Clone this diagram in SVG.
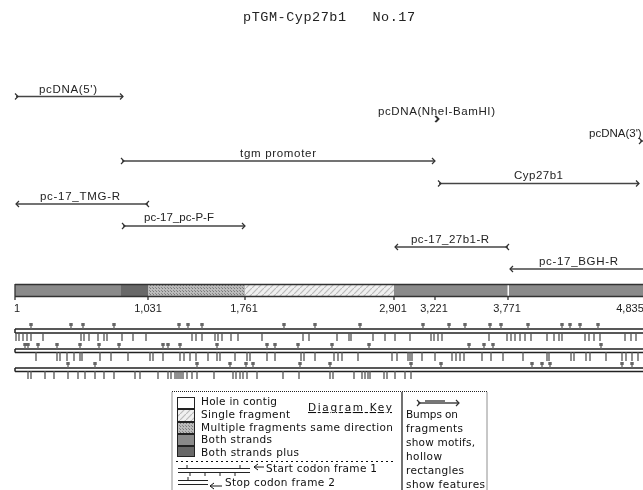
<svg xmlns="http://www.w3.org/2000/svg" width="643" height="490" viewBox="0 0 643 490">
<style>
text{fill:#222}
.t{font:13.500px "Liberation Mono",monospace}
.l{font:11.500px "Liberation Sans",Arial,sans-serif}
.n{font:11px "Liberation Sans",Arial,sans-serif;text-anchor:middle}
.k{font:10.500px "DejaVu Sans",sans-serif;fill:#111}
.s{fill:none;stroke:#444;stroke-width:1.3}
.tr{fill:none;stroke:#222;stroke-width:1.5}
.tk{fill:none;stroke:#555;stroke-width:1.3}
.st{fill:none;stroke:#666;stroke-width:1.300}
.bl{fill:none;stroke:#666;stroke-width:3.400;stroke-dasharray:0 3 3 1}
.sw{stroke:#222;stroke-width:1}
</style>
<defs>
<marker id="h" markerWidth="6" markerHeight="8" refX="4" refY="4" orient="auto" markerUnits="userSpaceOnUse"><path d="M1 1L4 4L1 7" fill="none" stroke="#333" stroke-width="1.200"/></marker>
<marker id="b" markerWidth="6" markerHeight="8" refX="2" refY="4" orient="auto" markerUnits="userSpaceOnUse"><path d="M1 1L4 4L1 7" fill="none" stroke="#333" stroke-width="1.200"/></marker>
<pattern id="stip" width="3" height="3" patternUnits="userSpaceOnUse"><rect width="3" height="3" fill="#bbb"/><rect width="1" height="1" fill="#777"/><rect x="2" y="2" width="1" height="1" fill="#888"/></pattern>
<pattern id="hat" width="6" height="6" patternUnits="userSpaceOnUse"><rect width="6" height="6" fill="#f0f0f0"/><path d="M0 6L6 0" stroke="#bbb" stroke-width="1.200"/></pattern>
<filter id="soft" x="0" y="0" width="100%" height="100%"><feGaussianBlur stdDeviation="0.4"/></filter>
<path id="b1" d="M31 329v-6M71 329v-6M83 329v-6M114 329v-6M179 329v-6M188 329v-6M202 329v-6M284 329v-6M315 329v-6M360 329v-6M423 329v-6M449 329v-6M465 329v-6M490 329v-6M501 329v-6M528 329v-6M562 329v-6M570 329v-6M580 329v-6M598 329v-6"/>
<path id="b2" d="M25 349v-6M28 349v-6M38 349v-6M57 349v-6M80 349v-6M99 349v-6M119 349v-6M163 349v-6M168 349v-6M180 349v-6M217 349v-6M267 349v-6M275 349v-6M298 349v-6M332 349v-6M369 349v-6M469 349v-6M484 349v-6M493 349v-6M601 349v-6"/>
<path id="b3" d="M68 368v-6M95 368v-6M197 368v-6M230 368v-6M246 368v-6M253 368v-6M300 368v-6M330 368v-6M411 368v-6M441 368v-6M532 368v-6M542 368v-6M550 368v-6M622 368v-6M632 368v-6"/>
</defs>
<rect width="643" height="490" fill="#fff"/>
<g filter="url(#soft)">
<text class="t" x="243" y="21" textLength="172" xml:space="preserve">pTGM-Cyp27b1   No.17</text>

<g id="connectors">
<path class="s" d="M16 96.500H123" marker-start="url(#b)" marker-end="url(#h)"/>
<path class="s" d="M122 161H435" marker-start="url(#b)" marker-end="url(#h)"/>
<path class="s" d="M439 183.500H639" marker-start="url(#b)" marker-end="url(#h)"/>
<path class="s" d="M148 204H16" marker-start="url(#b)" marker-end="url(#h)"/>
<path class="s" d="M123 226H245" marker-start="url(#b)" marker-end="url(#h)"/>
<path class="s" d="M508 247H395" marker-start="url(#b)" marker-end="url(#h)"/>
<path class="s" d="M650 269H510" marker-end="url(#h)"/>
<path class="s" d="M437 119H438" marker-start="url(#b)" marker-end="url(#h)"/>
<path class="s" d="M640 141H650" marker-start="url(#b)"/>
</g>
<g id="node-pcdna5"><text class="l" x="39" y="93" textLength="58">pcDNA(5')</text></g>
<g id="node-tgm"><text class="l" x="240" y="157" textLength="76">tgm promoter</text></g>
<g id="node-nhei"><text class="l" x="378" y="115" textLength="117">pcDNA(NheI-BamHI)</text></g>
<g id="node-pcdna3"><text class="l" x="589" y="137">pcDNA(3')</text></g>
<g id="node-cyp"><text class="l" x="514" y="179" textLength="49">Cyp27b1</text></g>
<g id="node-tmg"><text class="l" x="40" y="200" textLength="80">pc-17_TMG-R</text></g>
<g id="node-ppf"><text class="l" x="144" y="221" textLength="70">pc-17_pc-P-F</text></g>
<g id="node-27b1r"><text class="l" x="411" y="243" textLength="78">pc-17_27b1-R</text></g>
<g id="node-bgh"><text class="l" x="539" y="265" textLength="79">pc-17_BGH-R</text></g>

<g id="sequence-bar">
<rect x="15" y="285" width="106" height="11" fill="#8a8a8a"/>
<rect x="121" y="285" width="27" height="11" fill="#686868"/>
<rect x="148" y="285" width="97" height="11" fill="url(#stip)"/>
<rect x="245" y="285" width="149" height="11" fill="url(#hat)"/>
<rect x="394" y="285" width="249" height="11" fill="#8a8a8a"/>
<rect x="507.500" y="285" width="1.500" height="11" fill="#fff"/>
<path d="M15 284.500H643M15 296.500H643" stroke="#333" stroke-width="1.300" fill="none"/>
<path d="M15 284V300M148 297V300M245 297V300M394 297V300M435 297V300M508 297V300" stroke="#333" stroke-width="1.300" fill="none"/>
<text class="n" x="17" y="312">1</text>
<text class="n" x="148" y="312">1,031</text>
<text class="n" x="244" y="312">1,761</text>
<text class="n" x="393" y="312">2,901</text>
<text class="n" x="434" y="312">3,221</text>
<text class="n" x="507" y="312">3,771</text>
<text class="n" x="630" y="312">4,835</text>
</g>

<g id="tracks">
<path class="tr" d="M15 329H643M15 333H643M15 329V333"/>
<path class="tr" d="M15 349H643M15 352.500H643M15 349V352.500"/>
<path class="tr" d="M15 368H643M15 371.500H643M15 368V371.500"/>
<path class="tk" d="M16 333v8M19 333v8M23 333v8M27 333v8M31 333v8M43 333v8M81 333v8M84 333v8M89 333v8M98 333v8M104 333v8M107 333v8M122 333v8M133 333v8M146 333v8M192 333v8M196 333v8M202 333v8M215 333v8M218 333v8M222 333v8M231 333v8M238 333v8M262 333v8M303 333v8M309 333v8M337 333v8M349 333v8M351 333v8M373 333v8M385 333v8M395 333v8M410 333v8M431 333v8M434 333v8M438 333v8M442 333v8M489 333v8M507 333v8M511 333v8M515 333v8M520 333v8M525 333v8M531 333v8M547 333v8M554 333v8M559 333v8M562 333v8M585 333v8M589 333v8M594 333v8M600 333v8M625 333v8M631 333v8M636 333v8"/>
<path class="tk" d="M36 352v9M57 352v9M60 352v9M67 352v9M74 352v9M80 352v9M82 352v9M100 352v9M111 352v9M128 352v9M150 352v9M153 352v9M163 352v9M180 352v9M184 352v9M190 352v9M196 352v9M208 352v9M217 352v9M220 352v9M235 352v9M247 352v9M250 352v9M267 352v9M275 352v9M301 352v9M304 352v9M315 352v9M334 352v9M338 352v9M342 352v9M358 352v9M392 352v9M397 352v9M408 352v9M410 352v9M412 352v9M422 352v9M435 352v9M452 352v9M456 352v9M460 352v9M464 352v9M482 352v9M491 352v9M503 352v9M523 352v9M547 352v9M549 352v9M571 352v9M574 352v9M586 352v9M590 352v9M606 352v9M622 352v9M626 352v9M632 352v9M638 352v9"/>
<path class="tk" d="M28 371v8M31 371v8M45 371v8M54 371v8M68 371v8M78 371v8M85 371v8M95 371v8M104 371v8M114 371v8M135 371v8M140 371v8M158 371v8M168 371v8M171 371v8M175 371v8M177 371v8M179 371v8M181 371v8M183 371v8M187 371v8M192 371v8M197 371v8M214 371v8M233 371v8M236 371v8M240 371v8M243 371v8M247 371v8M257 371v8M283 371v8M299 371v8M330 371v8M333 371v8M354 371v8M362 371v8M365 371v8M368 371v8M370 371v8M384 371v8M387 371v8M395 371v8M405 371v8M411 371v8"/>
<use href="#b1" class="st"/><use href="#b1" class="bl"/>
<use href="#b2" class="st"/><use href="#b2" class="bl"/>
<use href="#b3" class="st"/><use href="#b3" class="bl"/>
</g>

<g id="legend">
<rect x="172" y="391.500" width="315" height="100" fill="none" stroke="#222" stroke-dasharray="1 1"/>
<path d="M402 392V490" stroke="#111" stroke-width="1.200"/>
<path d="M176 461.500H393" stroke="#111" stroke-dasharray="2 3"/>
<rect class="sw" x="177.500" y="397.500" width="17" height="11" fill="#fff"/>
<rect class="sw" x="177.500" y="409.500" width="17" height="12" fill="url(#hat)"/>
<rect class="sw" x="177.500" y="422.500" width="17" height="11" fill="url(#stip)"/>
<rect class="sw" x="177.500" y="434.500" width="17" height="11" fill="#8a8a8a"/>
<rect class="sw" x="177.500" y="446.500" width="17" height="10" fill="#686868"/>
<text class="k" x="201" y="405" textLength="76">Hole in contig</text>
<text class="k" x="201" y="418" textLength="89">Single fragment</text>
<text class="k" x="201" y="431" textLength="192">Multiple fragments same direction</text>
<text class="k" x="201" y="443" textLength="71">Both strands</text>
<text class="k" x="201" y="456" textLength="98">Both strands plus</text>
<text class="k" x="308" y="411" textLength="84" font-weight="bold" text-decoration="underline">Diagram Key</text>
<text class="k" x="266" y="472" textLength="111">Start codon frame 1</text>
<text class="k" x="225" y="486" textLength="110">Stop codon frame 2</text>
<path d="M178 468.500H250M178 472.500H250M187 465V468M240 465V468M190 473V476M205 473V476M220 473V476M235 473V476" stroke="#222" fill="none"/>
<path d="M178 480.500H208M178 484.500H208M188 477V480" stroke="#222" fill="none"/>
<path d="M258 464L254 467L258 470M254 467H264M214 483L210 486L214 489M210 486H222" stroke="#111" fill="none"/>
<path d="M418 403H459" class="s" marker-start="url(#b)" marker-end="url(#h)"/>
<path d="M425 401.500H445" stroke="#777" stroke-width="3" fill="none"/>
<text class="k" x="406" y="418" textLength="52">Bumps on</text>
<text class="k" x="406" y="432" textLength="57">fragments</text>
<text class="k" x="406" y="446" textLength="69">show motifs,</text>
<text class="k" x="406" y="460" textLength="36">hollow</text>
<text class="k" x="406" y="474" textLength="58">rectangles</text>
<text class="k" x="406" y="488" textLength="79">show features</text>
</g>
</g>
</svg>
